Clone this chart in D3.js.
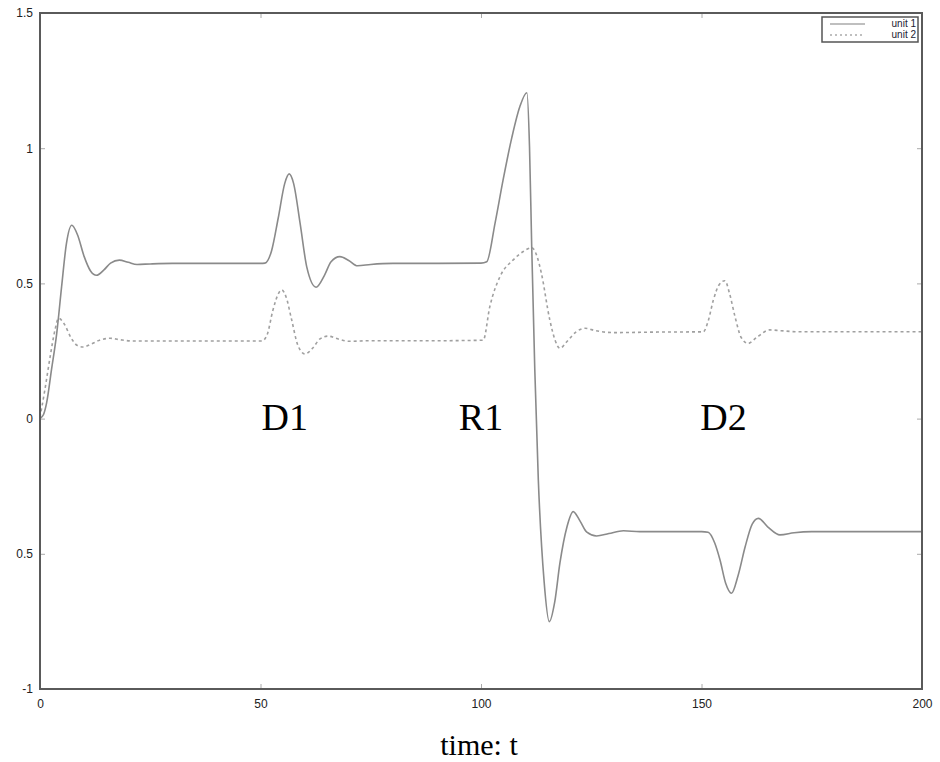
<!DOCTYPE html>
<html>
<head>
<meta charset="utf-8">
<script src="https://cdn.jsdelivr.net/npm/d3@7"></script>
<style>
  body { margin: 0; background: #fff; }
</style>
</head>
<body>
<div id="svgContainer"></div>
<script>
const width = 940;
const height = 762;

// unit 1 (solid)
const unit1T = [0, 0.8, 1.5, 2.6, 3.8, 4.9, 6, 7.2, 8.5, 10, 11.5, 12.8, 14.5, 16, 18, 20, 22, 25, 30, 40, 50,
  51, 52.5, 54, 55.5, 56.5, 57.5, 59, 60.5, 62.6, 64.5, 66, 68, 70, 72, 75, 80, 90, 100,
  101.3, 103.2, 105, 107, 108.8, 110.4, 111, 111.5, 112.2, 113, 114.3, 115.5, 116.7, 117.9, 119.5, 120.9,
  122.5, 124, 126.2, 129, 132.3, 136, 140, 150,
  151.5, 153, 154.2, 155.5, 156.8, 158.3, 159.9, 161.5, 162.9, 165, 167.8, 171, 175, 185, 200];
const unit1V = [0, 0.015, 0.058, 0.18, 0.316, 0.488, 0.648, 0.715, 0.68, 0.6, 0.545, 0.53, 0.55, 0.575, 0.586, 0.578, 0.57, 0.572, 0.574, 0.574, 0.574,
  0.575, 0.62, 0.74, 0.87, 0.905, 0.87, 0.72, 0.56, 0.486, 0.53, 0.58, 0.599, 0.585, 0.565, 0.57, 0.574, 0.574, 0.575,
  0.58, 0.724, 0.882, 1.04, 1.153, 1.205, 1.005, 0.636, 0.18, -0.227, -0.6, -0.751, -0.68, -0.534, -0.4, -0.344,
  -0.38, -0.42, -0.434, -0.425, -0.415, -0.418, -0.418, -0.418,
  -0.42, -0.46, -0.523, -0.61, -0.646, -0.58, -0.474, -0.39, -0.369, -0.4, -0.43, -0.422, -0.418, -0.418, -0.418];

// unit 2 (dotted)
const unit2T = [0, 1.1, 2.3, 3.4, 4.2, 5.5, 7, 8.5, 9.8, 11.5, 13.5, 15.9, 18, 21, 25, 40, 50.3,
  51.5, 52.8, 54, 54.8, 55.8, 57, 58.5, 60.1, 61.8, 63.5, 65.3, 67.5, 70, 75, 90, 100.5,
  102, 104.3, 107.3, 109.5, 111.5, 112.7, 113.7, 115.6, 116.8, 117.9, 119.5, 121.5, 123.6, 126, 130, 140, 150.4,
  151.5, 152.7, 154, 155.3, 156.4, 157.6, 159, 160.6, 162.5, 165.5, 168, 172, 185, 200];
const unit2V = [0.005, 0.106, 0.229, 0.328, 0.371, 0.35, 0.3, 0.27, 0.265, 0.275, 0.29, 0.297, 0.292, 0.287, 0.287, 0.287, 0.287,
  0.31, 0.4, 0.46, 0.476, 0.45, 0.37, 0.27, 0.239, 0.26, 0.295, 0.305, 0.295, 0.286, 0.288, 0.288, 0.29,
  0.414, 0.525, 0.587, 0.617, 0.632, 0.6, 0.537, 0.365, 0.29, 0.26, 0.285, 0.32, 0.334, 0.325, 0.318, 0.32, 0.321,
  0.36, 0.439, 0.495, 0.51, 0.46, 0.377, 0.3, 0.278, 0.3, 0.328, 0.325, 0.321, 0.321, 0.321];

const xTicks = [0, 50, 100, 150, 200];
const yTicks = [-1, -0.5, 0, 0.5, 1, 1.5];
const yTickLabels = ["-1", "0.5", "0", "0.5", "1", "1.5"];

const eventNames = ["D1", "R1", "D2"];
const eventT = [55.5, 100, 155];
const eventV = [-0.042, -0.042, -0.042];

const seriesNames = ["unit 1", "unit 2"];

const margin = ({top: 13, right: 18, bottom: 73, left: 40});

const svg = d3.select("#svgContainer").append("svg")
  .attr("width", width)
  .attr("height", height)
  .style("font-family", "'Liberation Sans', Arial, sans-serif");

const x = d3.scaleLinear()
  .domain([0, 200])
  .range([margin.left, width - margin.right]);

const y = d3.scaleLinear()
  .domain([-1, 1.5])
  .range([height - margin.bottom, margin.top]);

const xAxis = g => g
  .attr("transform", `translate(0,${height - margin.bottom})`)
  .call(d3.axisBottom(x).tickValues(xTicks).tickSize(-5).tickPadding(10).tickFormat(d3.format("d")))
  .call(g => g.select(".domain").remove())
  .call(g => g.selectAll(".tick line").attr("stroke", "#aaa"))
  .call(g => g.selectAll(".tick text").attr("font-size", 12).attr("fill", "#222")
    .attr("font-family", "'Liberation Sans', Arial, sans-serif"));

const yAxis = g => g
  .attr("transform", `translate(${margin.left},0)`)
  .call(d3.axisLeft(y).tickValues(yTicks).tickSize(-5).tickPadding(7)
    .tickFormat((d, i) => yTickLabels[i]))
  .call(g => g.select(".domain").remove())
  .call(g => g.selectAll(".tick line").attr("stroke", "#aaa"))
  .call(g => g.selectAll(".tick text").attr("font-size", 12).attr("fill", "#222")
    .attr("font-family", "'Liberation Sans', Arial, sans-serif"));

svg.append("g").call(xAxis);
svg.append("g").call(yAxis);

// right/top ticks
svg.append("g")
  .attr("transform", `translate(${width - margin.right},0)`)
  .call(d3.axisRight(y).tickValues(yTicks).tickSize(-5).tickFormat(""))
  .call(g => g.select(".domain").remove())
  .call(g => g.selectAll(".tick line").attr("stroke", "#aaa"));
svg.append("g")
  .attr("transform", `translate(0,${margin.top})`)
  .call(d3.axisTop(x).tickValues(xTicks).tickSize(-5).tickFormat(""))
  .call(g => g.select(".domain").remove())
  .call(g => g.selectAll(".tick line").attr("stroke", "#aaa"));

const line = d3.line()
  .curve(d3.curveMonotoneX)
  .x(d => x(d[0]))
  .y(d => y(d[1]));

const unit1 = unit1T.map((t, i) => [t, unit1V[i]]);
const unit2 = unit2T.map((t, i) => [t, unit2V[i]]);

svg.append("path")
  .datum(unit2)
  .attr("fill", "none")
  .attr("stroke", "#a0a0a0")
  .attr("stroke-width", 1.6)
  .attr("stroke-dasharray", "3,3")
  .attr("d", line);

svg.append("path")
  .datum(unit1)
  .attr("fill", "none")
  .attr("stroke", "#8a8a8a")
  .attr("stroke-width", 1.6)
  .attr("stroke-linejoin", "round")
  .attr("d", line);

// frame
svg.append("rect")
  .attr("x", margin.left)
  .attr("y", margin.top)
  .attr("width", width - margin.right - margin.left)
  .attr("height", height - margin.bottom - margin.top)
  .attr("fill", "none")
  .attr("stroke", "#5a5a5a")
  .attr("stroke-width", 2);

// event labels
svg.append("g")
  .selectAll("text")
  .data(eventNames)
  .join("text")
    .attr("x", (d, i) => x(eventT[i]))
    .attr("y", (d, i) => y(eventV[i]))
    .attr("text-anchor", "middle")
    .attr("font-family", "'Liberation Serif', 'Times New Roman', serif")
    .attr("font-size", 38)
    .attr("fill", "#000")
    .text(d => d);

// x label
svg.append("text")
  .attr("x", 479)
  .attr("y", 755)
  .attr("text-anchor", "middle")
  .attr("font-family", "'Liberation Serif', 'Times New Roman', serif")
  .attr("font-size", 30)
  .attr("fill", "#000")
  .text("time: t");

// legend
const legend = svg.append("g");
legend.append("rect")
  .attr("x", 822)
  .attr("y", 17)
  .attr("width", 96)
  .attr("height", 25)
  .attr("fill", "#fff")
  .attr("stroke", "#555")
  .attr("stroke-width", 1.5);

const legendRows = legend.selectAll("g")
  .data(seriesNames)
  .join("g")
    .attr("transform", (d, i) => `translate(0,${24 + i * 11})`);

legendRows.append("line")
  .attr("x1", 830)
  .attr("x2", 865)
  .attr("stroke", "#aaa")
  .attr("stroke-width", 1.5)
  .attr("stroke-dasharray", (d, i) => i === 1 ? "2,3" : null);

legendRows.append("text")
  .attr("x", 916)
  .attr("dy", "0.33em")
  .attr("text-anchor", "end")
  .attr("font-size", 10)
  .attr("fill", "#223")
  .text(d => d);
</script>
</body>
</html>
